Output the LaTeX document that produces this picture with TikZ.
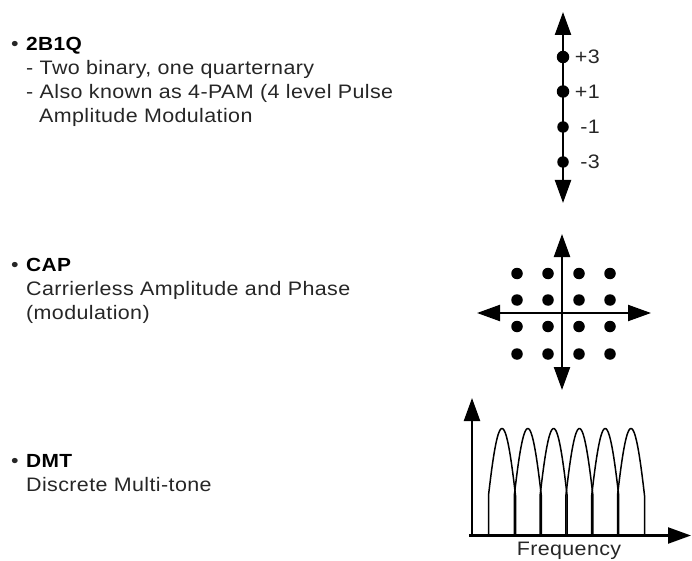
\documentclass[tikz,border=0pt]{standalone}
\usepackage{fontspec}
\setmainfont{Liberation Sans}[FakeStretch=1.1,LetterSpace=2]
\usetikzlibrary{arrows.meta}
\definecolor{txt}{HTML}{262626}
\begin{document}
\begin{tikzpicture}[x=1pt,y=-1pt,
  txtn/.style={anchor=base west, inner sep=0pt, text=txt, font=\fontsize{19.5}{23}\selectfont},
  head/.style={anchor=base west, inner sep=0pt, text=black, font=\fontsize{19}{23}\selectfont\bfseries},
  lbl/.style={anchor=base east, inner sep=0pt, text=txt, font=\fontsize{19.5}{23}\selectfont},
  axis/.style={line width=2.2pt, draw=black},
  tipA/.tip={Triangle[length=23pt,width=16pt]},
  dot/.style={circle, fill=black, inner sep=0pt, minimum size=#1},
  lobe/.style={line width=1.5pt, line join=round, draw=black}
]
\useasboundingbox (0,0) rectangle (692,561);

% ---------- 2B1Q ----------
\node[txtn] (bul1) at (11,51) {•};
\node[head] (h1) at (26,51) {2B1Q};
\node[txtn] (l1a) at (26,75) {- Two binary, one quarternary};
\node[txtn] (l1b) at (26,99) {- Also known as 4-PAM (4 level Pulse};
\node[txtn] (l1c) at (39,123) {Amplitude Modulation};

\coordinate (qtop) at (563,12);
\coordinate (qbot) at (563,203);
\draw[axis, tipA-tipA] (qbot) -- (qtop);
\node[dot=12.5pt] (p3) at (563,57) {};
\node[dot=12.5pt] (p1) at (563,91.5) {};
\node[dot=11.5pt] (m1) at (563,127) {};
\node[dot=11.5pt] (m3) at (563,162) {};
\node[lbl] (lp3) at (600,64) {+3};
\node[lbl] (lp1) at (600,98.5) {+1};
\node[lbl] (lm1) at (600,134) {-1};
\node[lbl] (lm3) at (600,169) {-3};

% ---------- CAP ----------
\node[txtn] (bul2) at (11,271) {•};
\node[head] (h2) at (26,271) {CAP};
\node[txtn] (l2a) at (26,295) {Carrierless Amplitude and Phase};
\node[txtn] (l2b) at (26,319) {(modulation)};

\coordinate (ctop) at (562,234);
\coordinate (cbot) at (562,390);
\coordinate (cleft) at (477,313);
\coordinate (cright) at (651,313);
\draw[axis, tipA-tipA] (cbot) -- (ctop);
\draw[axis, tipA-tipA] (cleft) -- (cright);
\foreach \cx [count=\ci] in {517,548,579,610}{
  \foreach \cy [count=\cj] in {273.5,300,326.5,354}{
    \node[dot=11.5pt] (c\ci\cj) at (\cx,\cy) {};
  }
}

% ---------- DMT ----------
\node[txtn] (bul3) at (11,467) {•};
\node[head] (h3) at (26,467) {DMT};
\node[txtn] (l3a) at (26,491) {Discrete Multi-tone};

\coordinate (dorig) at (472,535.5);
\coordinate (dstart) at (469,535.5);
\coordinate (dy) at (472,398);
\coordinate (dx) at (691,535.5);
\draw[axis, -tipA] (dorig) -- (dy);
\draw[axis, -tipA] (dstart) -- (dx);
\foreach \i in {0,...,5}{
  \pgfmathsetmacro\cc{502+25.8*\i}
  \draw[lobe] (\cc-13.5,535.5) -- plot[domain=-1:1, samples=41] ({\cc+13.5*\x},{535.5-107*cos(68*\x)}) -- (\cc+13.5,535.5);
}
\node[anchor=base, inner sep=0pt, text=txt, font=\fontsize{19.5}{23}\selectfont] (freq) at (569,555) {Frequency};
\end{tikzpicture}
\end{document}
